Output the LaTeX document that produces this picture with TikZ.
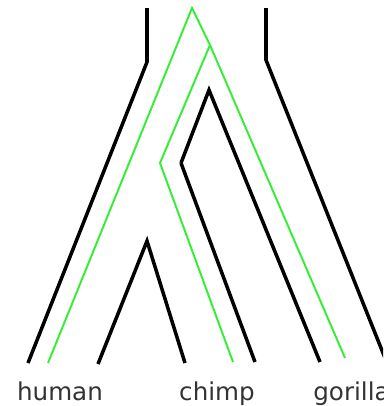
\documentclass[tikz,border=0pt]{standalone}
\usepackage{fontspec}
\setmainfont{DejaVu Sans}
\usetikzlibrary{positioning}
\definecolor{color_branch}{HTML}{000000}
\definecolor{color_gene}{HTML}{33EE33}
\definecolor{color_text}{HTML}{333333}
\tikzset{
  species_branch/.style={draw=color_branch, line width=2pt, line join=miter},
  gene_line/.style={draw=color_gene, line width=1.1pt, line join=miter},
  taxon_label/.style={font=\rmfamily\fontsize{14}{16}\selectfont, text=color_text, inner sep=0pt, anchor=base},
}
\begin{document}
\begin{tikzpicture}[x=0.02cm, y=-0.02cm]
    \useasboundingbox (0,0) rectangle (383,406);
    \clip (0,0) rectangle (383,406);
    % species tree outline
    \draw[species_branch] (147,8) -- (147,62) -- (28,363);
    \draw[species_branch] (266,8) -- (266,60) -- (387,363);
    \draw[species_branch] (181,163) -- (209,90) -- (320,362);
    \draw[species_branch] (181,163) -- (255,362);
    \draw[species_branch] (98,364) -- (147,241) -- (185,363);
    % gene tree inside
    \coordinate (root) at (192,8);
    \coordinate (split) at (210,45);
    \coordinate (kink) at (160,163);
    \draw[gene_line] (48,363) -- (root) -- (split) -- (345,358);
    \draw[gene_line] (split) -- (kink) -- (233,362);
    % tips
    \node[taxon_label] (human) at (60,400) {human};
    \node[taxon_label] (chimp) at (217,400) {chimp};
    \node[taxon_label, anchor=base west] (gorilla) at (313,400) {gorilla};
\end{tikzpicture}
\end{document}
